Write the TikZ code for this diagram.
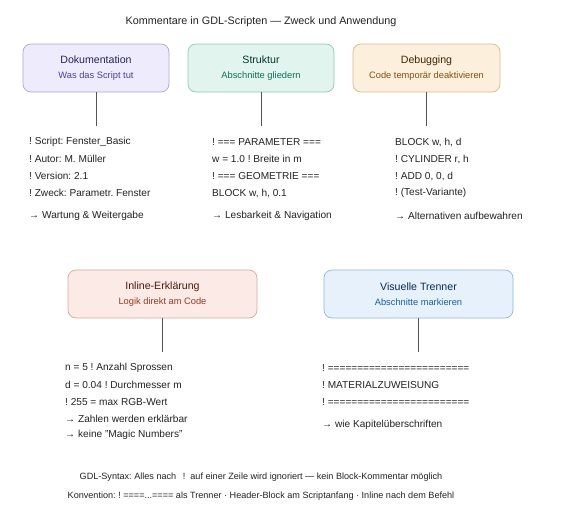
\documentclass[tikz,border=0pt]{standalone}
\usepackage{fontspec}
\setmainfont{Liberation Sans}
\frenchspacing
\definecolor{ink}{HTML}{222222}
\definecolor{wire}{HTML}{555555}
\definecolor{fA}{HTML}{EEECFC}\definecolor{sA}{HTML}{AAA4D8}\definecolor{tA}{HTML}{26215C}\definecolor{uA}{HTML}{4A3F9C}
\definecolor{fB}{HTML}{E1F5EE}\definecolor{sB}{HTML}{8CC8B2}\definecolor{tB}{HTML}{04342C}\definecolor{uB}{HTML}{0F6E56}
\definecolor{fC}{HTML}{FCEFDC}\definecolor{sC}{HTML}{D9B98A}\definecolor{tC}{HTML}{412402}\definecolor{uC}{HTML}{854F0B}
\definecolor{fD}{HTML}{FBEAE5}\definecolor{sD}{HTML}{D6A99B}\definecolor{tD}{HTML}{4A1B0C}\definecolor{uD}{HTML}{993C1D}
\definecolor{fE}{HTML}{E6F1FB}\definecolor{sE}{HTML}{8FB6DE}\definecolor{tE}{HTML}{042C53}\definecolor{uE}{HTML}{185FA5}
\tikzset{
  x=1pt,y=-1pt,
  card/.style={draw, rounded corners=8pt, line width=0.7pt, minimum height=48pt, inner sep=0pt},
  wirestyle/.style={draw=wire, line width=0.8pt},
  codeline/.style={anchor=west, inner sep=0pt, font=\fontsize{10.1}{12}\selectfont, text=ink},
  foot/.style={anchor=center, inner sep=0pt, font=\fontsize{9.1}{11}\selectfont, text=ink},
}
\newcommand{\cardtext}[4]{{\color{#1}\fontsize{10.6}{13}\selectfont #2}\\[3pt]{\color{#3}\fontsize{9.3}{11}\selectfont #4}}
\begin{document}
\begin{tikzpicture}
\useasboundingbox (0,0) rectangle (581,530);
\node[font=\fontsize{10.8}{13}\selectfont, text=ink] (title) at (261,22) {Kommentare in GDL-Scripten — Zweck und Anwendung};

% top row cards
\node[card, fill=fA, draw=sA, minimum width=146pt, align=center] (doc) at (96,68) {\cardtext{tA}{Dokumentation}{uA}{Was das Script tut}};
\node[card, fill=fB, draw=sB, minimum width=146pt, align=center] (str) at (261,68) {\cardtext{tB}{Struktur}{uB}{Abschnitte gliedern}};
\node[card, fill=fC, draw=sC, minimum width=147pt, align=center] (dbg) at (426.5,68) {\cardtext{tC}{Debugging}{uC}{Code temporär deaktivieren}};

\coordinate (docend) at (96,126);
\coordinate (strend) at (261,126);
\coordinate (dbgend) at (426.5,126);
\draw[wirestyle] (doc.south) -- (docend);
\draw[wirestyle] (str.south) -- (strend);
\draw[wirestyle] (dbg.south) -- (dbgend);

% column 1
\node[codeline] (a1) at (29,142) {! Script: Fenster\_Basic};
\node[codeline] (a2) at (29,159) {! Autor: M. Müller};
\node[codeline] (a3) at (29,176) {! Version: 2.1};
\node[codeline] (a4) at (29,193) {! Zweck: Parametr. Fenster};
\node[codeline] (a5) at (29,216) {→ Wartung \& Weitergabe};
% column 2
\node[codeline] (b1) at (212,142) {! === PARAMETER ===};
\node[codeline] (b2) at (212,159) {w = 1.0 ! Breite in m};
\node[codeline] (b3) at (212,176) {! === GEOMETRIE ===};
\node[codeline] (b4) at (212,193) {BLOCK w, h, 0.1};
\node[codeline] (b5) at (212,216) {→ Lesbarkeit \& Navigation};
% column 3
\node[codeline] (c1) at (395,142) {BLOCK w, h, d};
\node[codeline] (c2) at (395,159) {! CYLINDER r, h};
\node[codeline] (c3) at (395,176) {! ADD 0, 0, d};
\node[codeline] (c4) at (395,193) {! (Test-Variante)};
\node[codeline] (c5) at (395,216) {→ Alternativen aufbewahren};

% bottom row cards
\node[card, fill=fD, draw=sD, minimum width=189pt, align=center] (inl) at (162.5,294) {\cardtext{tD}{Inline-Erklärung}{uD}{Logik direkt am Code}};
\node[card, fill=fE, draw=sE, minimum width=189pt, align=center] (vis) at (418.5,294) {\cardtext{tE}{Visuelle Trenner}{uE}{Abschnitte markieren}};
\coordinate (inlend) at (162.5,352);
\coordinate (visend) at (418.5,352);
\draw[wirestyle] (inl.south) -- (inlend);
\draw[wirestyle] (vis.south) -- (visend);

\node[codeline] (d1) at (65,368) {n = 5 ! Anzahl Sprossen};
\node[codeline] (d2) at (65,385) {d = 0.04 ! Durchmesser m};
\node[codeline] (d3) at (65,402) {! 255 = max RGB-Wert};
\node[codeline] (d4) at (65,419) {→ Zahlen werden erklärbar};
\node[codeline] (d5) at (65,435) {→ keine "Magic Numbers"};

\node[codeline] (e1) at (322,368) {! ========================};
\node[codeline] (e2) at (322,385) {! MATERIALZUWEISUNG};
\node[codeline] (e3) at (322,402) {! ========================};
\node[codeline] (e4) at (322,425) {→ wie Kapitelüberschriften};

\node[foot] (f1) at (261,477) {GDL-Syntax: Alles nach \ \,! \ auf einer Zeile wird ignoriert — kein Block-Kommentar möglich};
\node[foot] (f2) at (261,496) {Konvention: ! ====...==== als Trenner · Header-Block am Scriptanfang · Inline nach dem Befehl};
\end{tikzpicture}
\end{document}
